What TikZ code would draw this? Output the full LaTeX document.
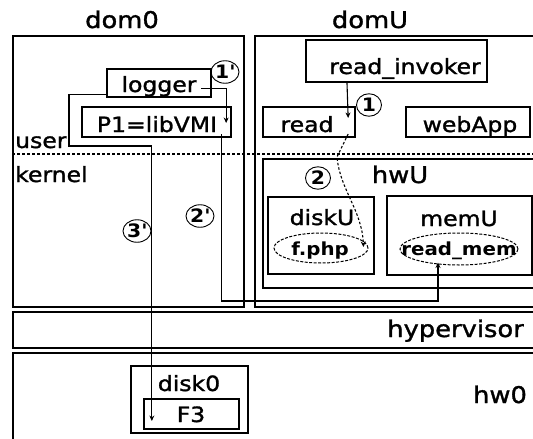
\documentclass[tikz,border=0pt]{standalone}
\usepackage{fontspec}
\setmainfont[FakeStretch=1.12,FakeBold=1.4]{DejaVu Sans}
\newfontfamily\ovalfont[FakeStretch=1.1]{DejaVu Sans Bold}
\usetikzlibrary{arrows.meta,calc,shapes.geometric}

\begin{document}
\begin{tikzpicture}[x=1pt,y=-1pt,
  box/.style={draw,line width=2.3pt,inner sep=0pt},
  txt/.style={inner sep=0pt,anchor=base,font=\fontsize{21}{23}\selectfont},
  bigtxt/.style={inner sep=0pt,anchor=base,font=\fontsize{23}{25}\selectfont},
  oval/.style={draw,ellipse,line width=1pt,dash pattern=on 3pt off 1.5pt,inner sep=0pt},
  num/.style={draw,ellipse,line width=0.9pt,minimum width=25pt,minimum height=22.5pt,
    inner sep=0pt,font=\ovalfont\fontsize{18.5}{20}\selectfont},
  conn/.style={line width=1.1pt},
  arr/.style={conn,-{Stealth[length=5.5pt,width=5pt]}},
]
\clip (0,0) rectangle (533,439);
\fill[white] (0,0) rectangle (533,439);

% domains, hypervisor and hardware
\node[box,minimum width=231pt,minimum height=271pt] (dom0) at (128.5,171.5) {};
\node[box,minimum width=290pt,minimum height=271pt] (domU) at (400,171.5) {};
\node[box,minimum width=532pt,minimum height=36pt] (hyp) at (279,330) {};
\node[box,minimum width=532pt,minimum height=97pt] (hw0) at (279,401.5) {};
\node[box,minimum width=282pt,minimum height=129pt] (hwU) at (404,223.5) {};
\node[box,minimum width=106pt,minimum height=77pt] (diskU) at (321,235.5) {};
\node[box,minimum width=145pt,minimum height=79pt] (memU) at (459.5,235.5) {};

% processes
\node[box,minimum width=104pt,minimum height=28pt] (logger) at (159,83) {};
\node[box,minimum width=149pt,minimum height=30pt] (p1) at (156.5,122) {};
\node[box,minimum width=181pt,minimum height=42pt] (readinv) at (396.5,61) {};
\node[box,minimum width=92pt,minimum height=30pt] (read) at (309,122) {};
\node[box,minimum width=124pt,minimum height=30pt] (webapp) at (468,122) {};
\node[box,minimum width=117pt,minimum height=67pt] (disk0) at (189.5,399.5) {};
\node[box,minimum width=95pt,minimum height=30pt] (f3) at (191.5,414) {};

% files and memory regions
\node[oval,minimum width=94pt,minimum height=30pt] (fphp) at (321,248) {};
\node[oval,minimum width=118pt,minimum height=32pt] (readmem) at (459,249) {};

% user / kernel boundary
\draw[line width=1.1pt,dash pattern=on 3pt off 2pt] (12,154) -- (533,154);

% labels
\node[bigtxt] (dom0lbl) at (122,28) {dom0};
\node[bigtxt] (domUlbl) at (370,28) {domU};
\node[bigtxt,anchor=base east] (hyplbl) at (524,337) {hypervisor};
\node[bigtxt] (hw0lbl) at (500,403) {hw0};
\node[bigtxt] (hwUlbl) at (400,183) {hwU};
\node[txt,anchor=base west] (userlbl) at (15,148) {user};
\node[txt,anchor=base west] (kernellbl) at (15,182) {kernel};
\node[txt] (loggerlbl) at (159,92) {logger};
\node[txt] (p1lbl) at (157,132) {P1=libVMI};
\node[txt] (readinvlbl) at (405,74) {read\_invoker};
\node[txt] (readlbl) at (307,132) {read};
\node[txt] (webapplbl) at (470,132) {webApp};
\node[txt] (diskUlbl) at (322,225) {diskU};
\node[txt] (memUlbl) at (459,226) {memU};
\node[txt] (disk0lbl) at (189,391) {disk0};
\node[txt] (f3lbl) at (191,422) {F3};
\node[inner sep=0pt,anchor=base,font=\ovalfont\fontsize{18}{20}\selectfont] (fphplbl) at (320,255) {f.php};
\node[inner sep=0pt,anchor=base,font=\ovalfont\fontsize{18}{20}\selectfont] (readmemlbl) at (459,255) {read\_mem};

% step numbers
\node[num] (s1p) at (225,72) {1\textquotesingle};
\node[num] (s1) at (369,105) {1};
\node[num] (s2) at (318,178) {2};
\node[num] (s2p) at (200,216) {2\textquotesingle};
\node[num] (s3p) at (137,231) {3\textquotesingle};

% bend points
\coordinate (k3) at (69,146);
\coordinate (k2) at (438,301);
\coordinate (k1) at (337,157);

% connectors
\draw[arr] ($(logger.south east)+(-11,-10)$) -| ($(p1.east)+(-6,1)$);
\draw[arr] ($(logger.south west)+(0,-4)$) -| (k3) -| ($(f3.west)+(9,7)$);
\draw[arr] ($(p1.south east)+(-11,-4)$) |- (k2) -- ($(readmem.south)+(-21,-3)$);
\draw[arr] ($(readinv.south)+(-49.5,0)$) -- ($(read.east)+(-8,-4)$);
\draw[conn,dash pattern=on 2.5pt off 2pt,-{Stealth[length=5.5pt,width=5pt]}]
  ($(read.east)+(-8,12)$) -- (k1) .. controls (340,190) and (362,210) .. ($(fphp.east)+(-5,-1)$);
\end{tikzpicture}
\end{document}
